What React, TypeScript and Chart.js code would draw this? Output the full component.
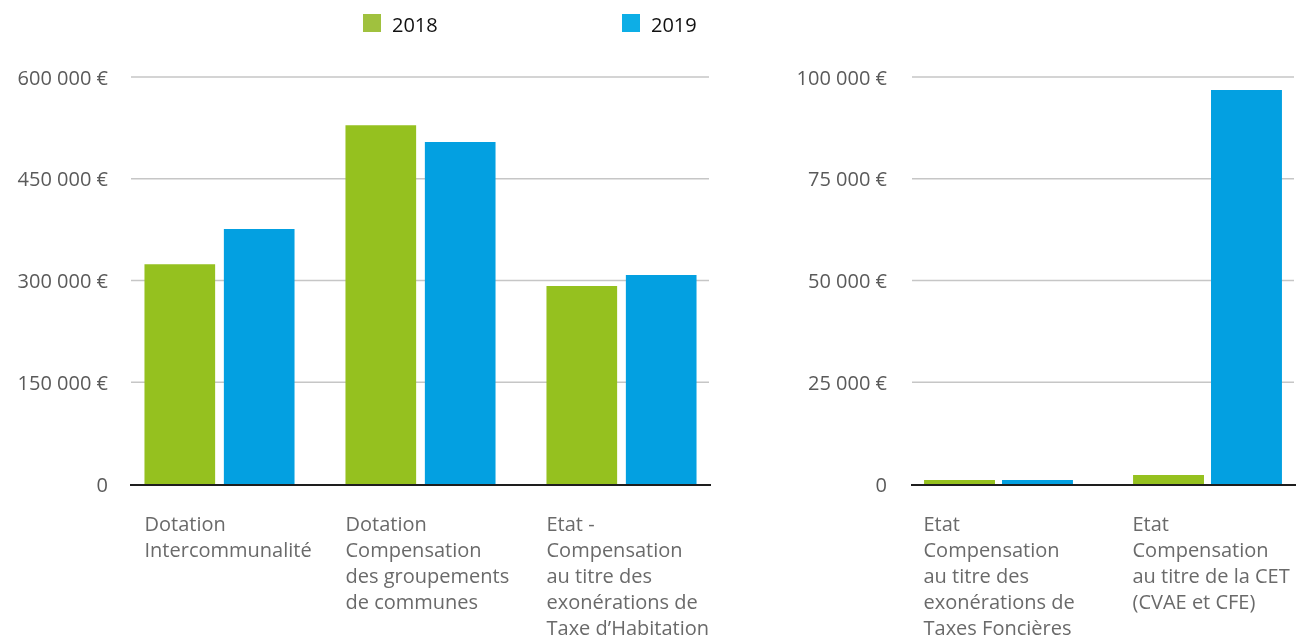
import React, { useEffect, useRef } from "react";
import { Chart, registerables } from "chart.js";

Chart.register(...registerables);

// ---- Data ----
const seriesLabels = ["2018", "2019"];

const leftCategories = [
  ["Dotation", "Intercommunalité"],
  ["Dotation", "Compensation", "des groupements", "de communes"],
  ["Etat -", "Compensation", "au titre des", "exonérations de", "Taxe d’Habitation"],
];
const leftValues2018 = [324000, 529000, 292000];
const leftValues2019 = [376000, 504000, 308000];
const leftMax = 600000;
const leftStep = 150000;

const rightCategories = [
  ["Etat", "Compensation", "au titre des", "exonérations de", "Taxes Foncières"],
  ["Etat", "Compensation", "au titre de la CET", "(CVAE et CFE)"],
];
const rightValues2018 = [1000, 2200];
const rightValues2019 = [1000, 96800];
const rightMax = 100000;
const rightStep = 25000;

// ---- Styles ----
const GREEN = "#95c11f";
const BLUE = "#03a0e1";
const LEGEND_GREEN = "#a0c13e";
const LEGEND_BLUE = "#0daee6";
const FONT = "'Open Sans', 'DejaVu Sans', sans-serif";

const formatEuro = (v: number) => {
  if (v === 0) return "0";
  const s = Math.round(v).toString().replace(/\B(?=(\d{3})+(?!\d))/g, " ");
  return s + " €";
};

const gridPlugin = {
  id: "customGrid",
  beforeDatasetsDraw(chart: any, _args: any, opts: any) {
    const { ctx, chartArea } = chart;
    const y = chart.scales.y;
    const x0 = chartArea.left + opts.insetLeft;
    const x1 = chartArea.right - opts.insetRight;
    ctx.save();
    ctx.strokeStyle = "#c6c6c6";
    ctx.lineWidth = 1.5;
    y.ticks.forEach((t: any) => {
      if (t.value === 0) return;
      const py = y.getPixelForValue(t.value);
      ctx.beginPath();
      ctx.moveTo(x0, py);
      ctx.lineTo(x1, py);
      ctx.stroke();
    });
    ctx.restore();
  },
  afterDatasetsDraw(chart: any, _args: any, opts: any) {
    const { ctx, chartArea } = chart;
    const y = chart.scales.y;
    const py = y.getPixelForValue(0) + 1;
    ctx.save();
    ctx.strokeStyle = "#1e1e1e";
    ctx.lineWidth = 2.2;
    ctx.beginPath();
    ctx.moveTo(chartArea.left + opts.insetLeft - 1, py);
    ctx.lineTo(chartArea.right - opts.insetRight + 2, py);
    ctx.stroke();
    ctx.restore();
  },
};

type PanelProps = {
  categories: string[][];
  v2018: number[];
  v2019: number[];
  max: number;
  step: number;
  width: number;
  height: number;
  yAxisWidth: number;
  yPadding: number;
  catPct: number;
  barPct: number;
  insetLeft: number;
  insetRight: number;
  left: number;
};

function Panel(p: PanelProps) {
  const ref = useRef<HTMLCanvasElement | null>(null);
  useEffect(() => {
    if (!ref.current) return;
    const chart = new Chart(ref.current, {
      type: "bar",
      data: {
        labels: p.categories,
        datasets: [
          {
            label: seriesLabels[0],
            data: p.v2018,
            backgroundColor: GREEN,
            categoryPercentage: p.catPct,
            barPercentage: p.barPct,
          },
          {
            label: seriesLabels[1],
            data: p.v2019,
            backgroundColor: BLUE,
            categoryPercentage: p.catPct,
            barPercentage: p.barPct,
          },
        ],
      },
      plugins: [gridPlugin],
      options: {
        responsive: false,
        animation: false,
        devicePixelRatio: 1,
        layout: { padding: { top: 77, left: 0, right: 0, bottom: 0 } },
        plugins: {
          legend: { display: false },
          tooltip: { enabled: false },
          customGrid: { insetLeft: p.insetLeft, insetRight: p.insetRight },
        } as any,
        scales: {
          x: {
            offset: true,
            grid: { display: false, drawTicks: false },
            border: { display: false },
            ticks: {
              autoSkip: false,
              maxRotation: 0,
              minRotation: 0,
              align: "start",
              labelOffset: -75,
              padding: 28,
              color: "#6a6a6a",
              font: { family: FONT, size: 20, lineHeight: 1.3 },
            },
            afterFit: (scale: any) => {
              scale.height = 156;
              scale.paddingLeft = 0;
              scale.paddingRight = 0;
            },
          },
          y: {
            min: 0,
            max: p.max,
            grid: { display: false, drawTicks: false },
            border: { display: false },
            ticks: {
              stepSize: p.step,
              padding: p.yPadding,
              labelOffset: 2,
              color: "#5a5a5a",
              font: { family: FONT, size: 20 },
              callback: (v: any) => formatEuro(Number(v)),
            },
            afterFit: (scale: any) => {
              scale.width = p.yAxisWidth;
            },
          },
        },
      },
    });
    return () => chart.destroy();
  }, []);
  return (
    <canvas
      ref={ref}
      width={p.width}
      height={p.height}
      style={{
        position: "absolute",
        left: p.left,
        top: 0,
        width: p.width,
        height: p.height,
        display: "block",
      }}
    />
  );
}

function LegendItem({ color, text, left }: { color: string; text: string; left: number }) {
  return (
    <div style={{ position: "absolute", left, top: 14, height: 18, display: "flex" }}>
      <div style={{ width: 18, height: 18, background: color }} />
      <div
        style={{
          position: "absolute",
          left: 29,
          top: -1,
          fontFamily: FONT,
          fontSize: 20,
          lineHeight: "24px",
          color: "#111",
          whiteSpace: "nowrap",
        }}
      >
        {text}
      </div>
    </div>
  );
}

export default function App() {
  return (
    <div
      style={{
        position: "absolute",
        left: 0,
        top: 0,
        width: 1299,
        height: 640,
        overflow: "hidden",
        background: "#fff",
      }}
    >
      <Panel
        categories={leftCategories}
        v2018={leftValues2018}
        v2019={leftValues2019}
        max={leftMax}
        step={leftStep}
        width={722}
        height={640}
        yAxisWidth={119}
        yPadding={11}
        catPct={0.79}
        barPct={0.89}
        insetLeft={12}
        insetRight={13}
        left={0}
      />
      <Panel
        categories={rightCategories}
        v2018={rightValues2018}
        v2019={rightValues2019}
        max={rightMax}
        step={rightStep}
        width={552}
        height={640}
        yAxisWidth={134}
        yPadding={7}
        catPct={0.746}
        barPct={0.91}
        insetLeft={18}
        insetRight={18}
        left={760}
      />
      <LegendItem color={LEGEND_GREEN} text={seriesLabels[0]} left={363} />
      <LegendItem color={LEGEND_BLUE} text={seriesLabels[1]} left={622} />
    </div>
  );
}
